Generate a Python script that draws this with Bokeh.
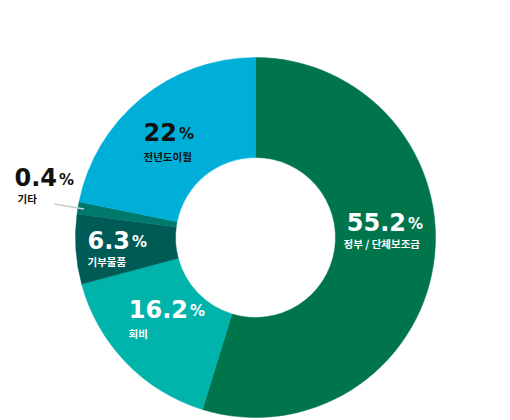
import math
from bokeh.plotting import figure
from bokeh.models import Range1d, ColumnDataSource
from bokeh.core.properties import value
from bokeh.embed import file_html
from bokeh.resources import INLINE

# ---- data ----
categories = ["정부 / 단체보조금", "회비", "기부물품", "기타", "전년도이월"]
shares = [55.2, 16.2, 6.3, 0.4, 22.0]
number_labels = ["55.2", "16.2", "6.3", "0.4", "22"]

# ---- style / layout ----
colors = ["#00754B", "#00B4AB", "#005A55", "#00796D", "#00AFD8"]
text_colors = ["#FFFFFF", "#FFFFFF", "#FFFFFF", "#111111", "#111111"]
MIN_VISIBLE_SHARE = 1.1    # tiny slices are drawn at least this wide
W, H = 510, 420
CX, CY = 255, 183          # donut centre (canvas pixels, y up)
R_IN, R_OUT = 80, 180
# label anchors as (dx, dy_down) offsets from the centre, in pixels
num_junction = [(151.5, -16), (-66.5, 71), (-124.5, 2), (-197.5, -60.5), (-77.5, -106)]
sub_anchor = [(88, 6), (-127, 95.5), (-168, 23.5), (-238, -39.5), (-112, -81)]

drawn = [max(s, MIN_VISIBLE_SHARE) for s in shares]
total = sum(drawn)
starts, ends = [], []
cum = 0.0
for s in drawn:
    a0 = math.pi / 2 - 2 * math.pi * cum / total
    cum += s
    a1 = math.pi / 2 - 2 * math.pi * cum / total
    starts.append(a1)
    ends.append(a0)

p = figure(width=W, height=H, output_backend="svg", toolbar_location=None,
           x_range=Range1d(0, W), y_range=Range1d(0, H), min_border=0)
p.axis.visible = False
p.grid.visible = False
p.outline_line_color = None
p.background_fill_color = "white"
p.border_fill_color = "white"

src = ColumnDataSource(dict(x=[CX] * len(shares), y=[CY] * len(shares),
                            start=starts, end=ends, color=colors))
p.annular_wedge(x="x", y="y", inner_radius=R_IN, outer_radius=R_OUT,
                start_angle="start", end_angle="end", fill_color="color",
                line_color="color", line_width=0.5, source=src)

# leader line for the small slice
i_small = 3
mid = (starts[i_small] + ends[i_small]) / 2
p.line([CX + 174 * math.cos(mid), CX + 204 * math.cos(mid)],
       [CY + 174 * math.sin(mid), CY + 204 * math.sin(mid)],
       line_color="#CCCCCC", line_width=1.5)

nx = [CX + d[0] - 1 for d in num_junction]
ny = [CY - d[1] for d in num_junction]
px = [CX + d[0] + 1 for d in num_junction]
py = [CY - d[1] - 2.5 for d in num_junction]
sx = [CX + d[0] for d in sub_anchor]
sy = [CY - d[1] for d in sub_anchor]

lab = ColumnDataSource(dict(nx=nx, ny=ny, px=px, py=py, sx=sx, sy=sy,
                            num=number_labels, pct=["%"] * len(shares),
                            cat=categories, tc=text_colors))
p.text(x="nx", y="ny", text="num", source=lab, text_color="tc",
       text_font=value("DejaVu Sans"), text_font_style="bold",
       text_font_size="24px", text_align="right", text_baseline="middle")
p.text(x="px", y="py", text="pct", source=lab, text_color="tc",
       text_font=value("DejaVu Sans"), text_font_style="bold",
       text_font_size="15px", text_align="left", text_baseline="middle")
p.text(x="sx", y="sy", text="cat", source=lab, text_color="tc",
       text_font=value("Noto Sans CJK KR"), text_font_style="bold",
       text_font_size="10.5px", text_align="left", text_baseline="middle")

open("out.html", "w").write(file_html(p, INLINE))
